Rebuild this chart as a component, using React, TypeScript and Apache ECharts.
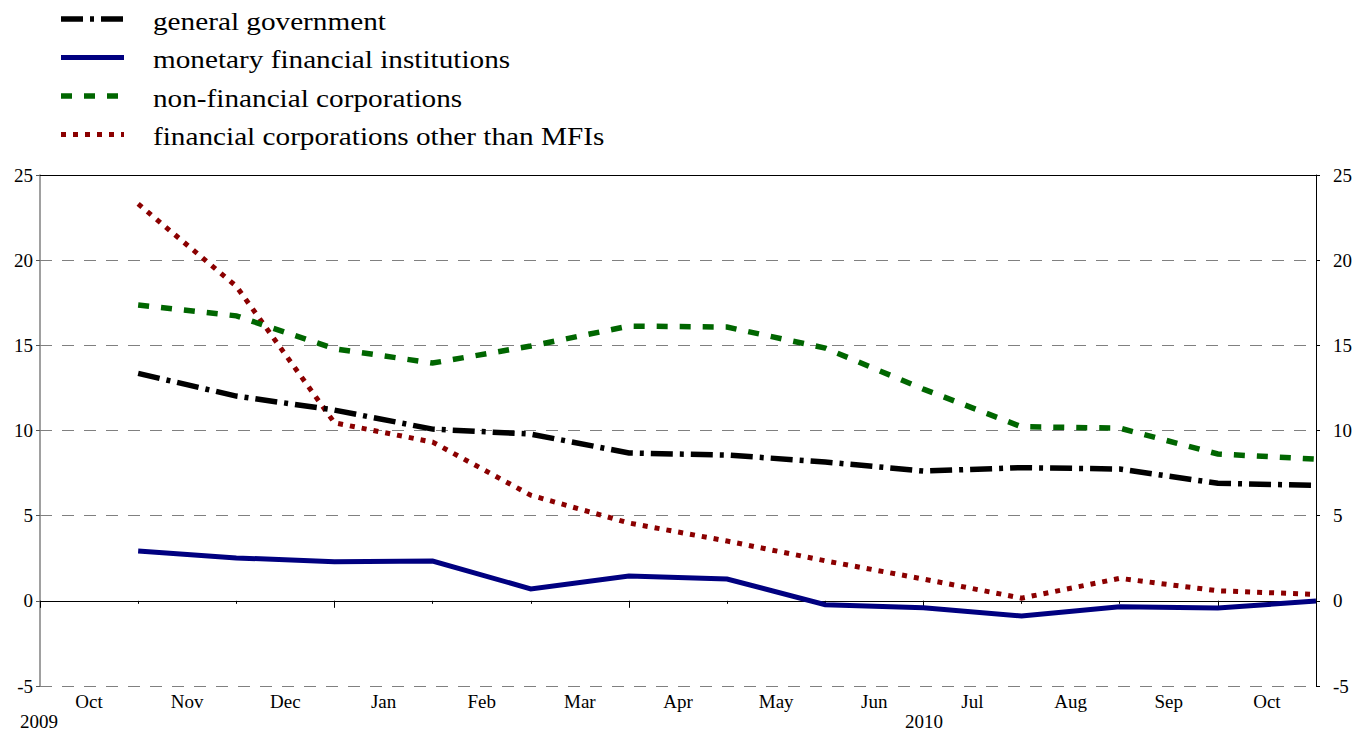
import React, { useEffect, useRef } from 'react';
import * as echarts from 'echarts';

const months = ['Oct', 'Nov', 'Dec', 'Jan', 'Feb', 'Mar', 'Apr', 'May', 'Jun', 'Jul', 'Aug', 'Sep', 'Oct'];
const yearLabels = ['2009', '2010'];
const seriesNames = [
  'general government',
  'monetary financial institutions',
  'non-financial corporations',
  'financial corporations other than MFIs',
];
// values at the end of each month (Oct 2009 ... Oct 2010)
const generalGovernment = [13.35, 12.02, 11.2, 10.08, 9.79, 8.68, 8.56, 8.15, 7.62, 7.82, 7.74, 6.9, 6.78];
const monetaryFinancialInstitutions = [2.93, 2.52, 2.29, 2.34, 0.7, 1.46, 1.28, -0.23, -0.41, -0.89, -0.35, -0.42, -0.01];
const nonFinancialCorporations = [17.37, 16.73, 14.8, 13.96, 14.96, 16.13, 16.07, 14.84, 12.43, 10.22, 10.14, 8.62, 8.32];
const otherFinancialCorporations = [23.3, 18.47, 10.45, 9.32, 6.2, 4.57, 3.51, 2.35, 1.28, 0.16, 1.32, 0.59, 0.38];
const yMin = -5;
const yMax = 25;
const yStep = 5;

const FONT = 'serif';

const styles = [
  { color: '#000000', type: [22, 7, 4, 7], width: 5.5 },
  { color: '#000080', type: 'solid', width: 5 },
  { color: '#006600', type: [11, 12], width: 5.5 },
  { color: '#8B0000', type: [5, 7], width: 5 },
];

export default function App() {
  const ref = useRef<HTMLDivElement>(null);

  useEffect(() => {
    if (!ref.current) return;
    const chart = echarts.init(ref.current, undefined, { renderer: 'svg' });
    const values = [generalGovernment, monetaryFinancialInstitutions, nonFinancialCorporations, otherFinancialCorporations];

    const legendGraphics: any[] = [];
    seriesNames.forEach((name, i) => {
      const y = 19 + 38.5 * i;
      const st = styles[i];
      legendGraphics.push({
        type: 'line',
        shape: { x1: 61, y1: y, x2: 124, y2: y },
        style: {
          stroke: st.color,
          lineWidth: st.width,
          lineDash: Array.isArray(st.type) ? st.type : null,
          lineCap: 'butt',
        },
      });
      legendGraphics.push({
        type: 'text',
        x: 153,
        y: y + 2.5,
        scaleX: 1.17,
        style: {
          text: name,
          fontFamily: FONT,
          fontSize: 25,
          fill: '#000',
          textAlign: 'left',
          textVerticalAlign: 'middle',
        },
      });
    });

    const yearPos = [39, 924];
    const yearGraphics = yearLabels.map((t, i) => ({
      type: 'text',
      x: yearPos[i],
      y: 721,
      style: {
        text: t,
        fontFamily: FONT,
        fontSize: 19,
        fill: '#000',
        textAlign: 'center',
        textVerticalAlign: 'middle',
      },
    }));

    chart.setOption({
      animation: false,
      backgroundColor: '#ffffff',
      textStyle: { fontFamily: FONT },
      grid: { left: 40, right: 51, top: 175, bottom: 48, containLabel: false },
      xAxis: [
        {
          type: 'category',
          data: months,
          boundaryGap: true,
          position: 'bottom',
          axisLine: { show: true, lineStyle: { color: '#000', width: 1 } },
          axisTick: { show: true, length: 3, interval: 0, lineStyle: { color: '#000' } },
          axisLabel: { interval: 0, margin: 6, fontFamily: FONT, fontSize: 19, color: '#000' },
          splitLine: { show: false },
        },
        {
          type: 'category',
          data: months,
          boundaryGap: true,
          position: 'bottom',
          axisLine: { show: false },
          axisTick: {
            show: true,
            length: 7,
            interval: (index: number) => index % 3 === 0,
            lineStyle: { color: '#000' },
          },
          axisLabel: { show: false },
          splitLine: { show: false },
        },
        {
          type: 'value',
          min: 0,
          max: months.length,
          position: 'top',
          axisLine: { show: true, onZero: false, lineStyle: { color: '#000', width: 1 } },
          axisTick: { show: false },
          axisLabel: { show: false },
          splitLine: { show: false },
        },
      ],
      yAxis: [
        {
          type: 'value',
          min: yMin,
          max: yMax,
          interval: yStep,
          position: 'left',
          axisLine: { show: true, lineStyle: { color: '#808080', width: 1.5 } },
          axisTick: { show: true, length: 4, lineStyle: { color: '#555' } },
          axisLabel: { margin: 7, fontFamily: FONT, fontSize: 19, color: '#000' },
          splitLine: { show: true, lineStyle: { color: '#808080', width: 1, type: [12, 10] } },
        },
        {
          type: 'value',
          min: yMin,
          max: yMax,
          interval: yStep,
          position: 'right',
          axisLine: { show: true, lineStyle: { color: '#000', width: 1 } },
          axisTick: { show: true, length: 4, lineStyle: { color: '#000' } },
          axisLabel: { margin: 17, fontFamily: FONT, fontSize: 19, color: '#000' },
          splitLine: { show: false },
        },
      ],
      series: seriesNames.map((name, i) => ({
        name,
        type: 'line',
        xAxisIndex: 2,
        yAxisIndex: 0,
        showSymbol: false,
        symbol: 'none',
        data: values[i].map((v, k) => [k + 1, v]),
        lineStyle: {
          color: styles[i].color,
          width: styles[i].width,
          type: styles[i].type as any,
          cap: 'butt',
          join: 'miter',
        },
        z: 10 - i,
      })),
      graphic: [...legendGraphics, ...yearGraphics],
    });

    return () => {
      chart.dispose();
    };
  }, []);

  return (
    <div
      ref={ref}
      style={{ position: 'fixed', left: 0, top: 0, width: 1367, height: 734, background: '#fff' }}
    />
  );
}
